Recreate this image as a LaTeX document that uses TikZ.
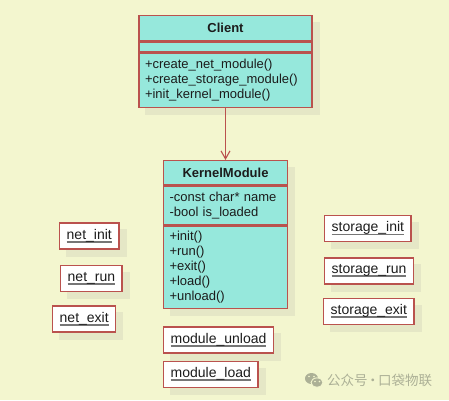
\documentclass[tikz,border=0pt]{standalone}
\usepackage{fontspec}
\setmainfont{Liberation Sans}
\newfontfamily\cjkfont{Noto Sans CJK SC}
\usetikzlibrary{arrows.meta, positioning, fit, backgrounds}

\definecolor{pagebg}{RGB}{243,246,207}
\definecolor{classfill}{RGB}{150,232,220}
\definecolor{umlred}{RGB}{186,82,78}
\definecolor{shadowc}{RGB}{229,231,198}
\definecolor{ulgray}{RGB}{118,118,118}
\definecolor{inkc}{RGB}{28,28,28}
\definecolor{markgray}{RGB}{172,176,150}

% text with a grey bar underneath
\newsavebox\lblbox
\newcommand\ulabel[1]{\sbox\lblbox{#1}\rlap{\textcolor{ulgray}{\rule[-3.6pt]{\wd\lblbox}{1.8pt}}}\usebox\lblbox}

\begin{document}
\begin{tikzpicture}[
      x=1pt, y=-1pt,
      every node/.style={text=inkc},
      classhead/.style={rectangle, draw=umlred, fill=classfill, line width=1.4pt, inner sep=0pt, font=\fontsize{13}{15}\selectfont\bfseries},
      classpart/.style={rectangle, draw=umlred, fill=classfill, line width=1.4pt, inner xsep=6pt, inner ysep=0pt, align=left, font=\fontsize{13}{15}\selectfont},
      fnlabel/.style={rectangle, draw=umlred, fill=white, line width=1.4pt, inner xsep=7pt, inner ysep=0pt, minimum height=26pt, anchor=west, font=\fontsize{14}{16}\selectfont},
      boxshadow/.style={inner sep=0pt, fill=shadowc, xshift=7pt, yshift=-7pt},
      uses/.style={draw=umlred, line width=1.1pt, -{Straight Barb[length=8pt, width=9pt, line width=1.1pt]}}
    ]

    \useasboundingbox (0,0) rectangle (449,400);

    % Client class
    \node (client-head) [classhead, minimum width=173pt, minimum height=25pt, anchor=north] at (225.5,15) {Client};
    \node (client-attr) [classpart, minimum width=173pt, minimum height=10pt, below=0pt of client-head] {};
    \node (client-ops) [classpart, text width=161pt, minimum height=54pt, below=0pt of client-attr] {+create\_net\_module()\\+create\_storage\_module()\\+init\_kernel\_module()};

    % KernelModule class
    \node (kernel-head) [classhead, minimum width=124pt, minimum height=24pt, anchor=north] at (225.5,160) {KernelModule};
    \node (kernel-attr) [classpart, text width=112pt, minimum height=39pt, below=0pt of kernel-head] {-const char* name\\-bool is\_loaded};
    \node (kernel-ops) [classpart, text width=112pt, minimum height=82pt, below=0pt of kernel-attr] {+init()\\+run()\\+exit()\\+load()\\+unload()};

    \draw [uses] (client-ops.south) -- (kernel-head.north);

    % net functions
    \node (net-init) [fnlabel] at (59,236) {\ulabel{net\_init}};
    \node (net-run) [fnlabel, below=15pt of net-init.south west, anchor=north west, xshift=1pt] {\ulabel{net\_run}};
    \node (net-exit) [fnlabel, below=13pt of net-run.south west, anchor=north west, xshift=-8pt] {\ulabel{net\_exit}};

    % storage functions
    \node (storage-init) [fnlabel] at (324,228.5) {\ulabel{storage\_init}};
    \node (storage-run) [fnlabel, below=15pt of storage-init.south west, anchor=north west] {\ulabel{storage\_run}};
    \node (storage-exit) [fnlabel, below=13pt of storage-run.south west, anchor=north west, xshift=-1pt] {\ulabel{storage\_exit}};

    % module functions
    \node (module-unload) [fnlabel] at (163,340) {\ulabel{module\_unload}};
    \node (module-load) [fnlabel, below=7pt of module-unload.south west, anchor=north west] {\ulabel{module\_load}};

    % watermark
    \fill [markgray] (311.5,378.5) ellipse [x radius=6.5pt, y radius=5.5pt];
    \filldraw [markgray, draw=pagebg, line width=0.9pt] (317,382.5) ellipse [x radius=6pt, y radius=4.6pt];
    \fill [pagebg] (309,376.5) circle [radius=0.9pt] (314,376.5) circle [radius=0.9pt];
    \fill [pagebg] (315,381.5) circle [radius=0.8pt] (319.5,381.5) circle [radius=0.8pt];
    \node (mark-text) [anchor=west, inner sep=0pt, text=markgray, font=\cjkfont\fontsize{13.5}{15}\selectfont] at (327,380) {公众号\hspace{-1.5pt}·\hspace{-1.5pt}口袋物联};

    % page and shadows
    \begin{scope}[on background layer]
      \fill [pagebg] (0,0) rectangle (449,400);
      \node [boxshadow, fit=(client-head) (client-ops)] {};
      \node [boxshadow, fit=(kernel-head) (kernel-ops)] {};
      \foreach \n in {net-init, net-run, net-exit, storage-init, storage-run, storage-exit, module-unload, module-load}
        \node [boxshadow, fit=(\n)] {};
    \end{scope}

  \end{tikzpicture}
\end{document}
